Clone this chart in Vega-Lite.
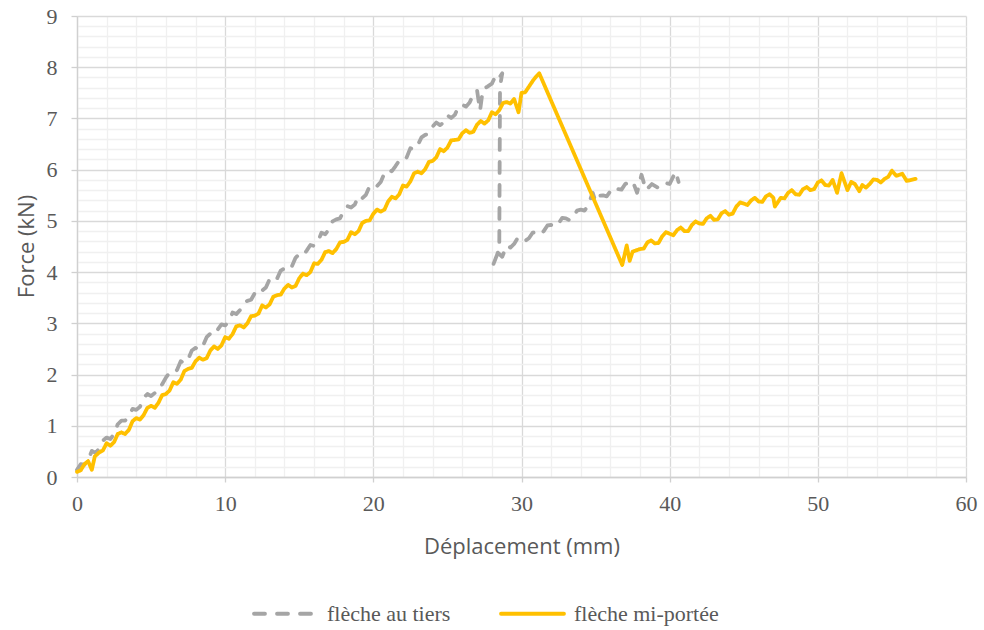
{
  "$schema": "https://vega.github.io/schema/vega-lite/v6.json",
  "width": 889,
  "height": 461,
  "autosize": "none",
  "padding": {"left": 77, "top": 16, "right": 18, "bottom": 153},
  "background": "white",
  "config": {"view": {"stroke": null}},
  "datasets": {
    "pts": [
      {"s":"flèche au tiers","i":1,"x":0,"y":0.14},{"s":"flèche au tiers","i":2,"x":0.5,"y":0.24},{"s":"flèche au tiers","i":3,"x":1,"y":0.51},{"s":"flèche au tiers","i":4,"x":1.5,"y":0.55},{"s":"flèche au tiers","i":5,"x":2,"y":0.77},{"s":"flèche au tiers","i":6,"x":2.5,"y":0.84},{"s":"flèche au tiers","i":7,"x":3,"y":1.10},{"s":"flèche au tiers","i":8,"x":3.5,"y":1.20},{"s":"flèche au tiers","i":9,"x":4,"y":1.31},{"s":"flèche au tiers","i":10,"x":4.5,"y":1.55},
      {"s":"flèche au tiers","i":11,"x":5,"y":1.58},{"s":"flèche au tiers","i":12,"x":5.5,"y":1.78},{"s":"flèche au tiers","i":13,"x":6,"y":1.94},{"s":"flèche au tiers","i":14,"x":6.5,"y":2.02},{"s":"flèche au tiers","i":15,"x":7,"y":2.26},{"s":"flèche au tiers","i":16,"x":7.5,"y":2.30},{"s":"flèche au tiers","i":17,"x":8,"y":2.52},{"s":"flèche au tiers","i":18,"x":8.5,"y":2.56},{"s":"flèche au tiers","i":19,"x":9,"y":2.80},{"s":"flèche au tiers","i":20,"x":9.5,"y":2.88},
      {"s":"flèche au tiers","i":21,"x":10,"y":2.96},{"s":"flèche au tiers","i":22,"x":10.5,"y":3.21},{"s":"flèche au tiers","i":23,"x":11,"y":3.26},{"s":"flèche au tiers","i":24,"x":11.5,"y":3.44},{"s":"flèche au tiers","i":25,"x":12,"y":3.59},{"s":"flèche au tiers","i":26,"x":12.5,"y":3.64},{"s":"flèche au tiers","i":27,"x":13,"y":3.86},{"s":"flèche au tiers","i":28,"x":13.5,"y":3.87},{"s":"flèche au tiers","i":29,"x":14,"y":4.07},{"s":"flèche au tiers","i":30,"x":14.5,"y":4.11},
      {"s":"flèche au tiers","i":31,"x":15,"y":4.35},{"s":"flèche au tiers","i":32,"x":15.5,"y":4.42},{"s":"flèche au tiers","i":33,"x":16,"y":4.51},{"s":"flèche au tiers","i":34,"x":16.5,"y":4.77},{"s":"flèche au tiers","i":35,"x":17,"y":4.83},{"s":"flèche au tiers","i":36,"x":17.5,"y":5.03},{"s":"flèche au tiers","i":37,"x":18,"y":5.19},{"s":"flèche au tiers","i":38,"x":18.5,"y":5.26},{"s":"flèche au tiers","i":39,"x":19,"y":5.49},{"s":"flèche au tiers","i":40,"x":19.5,"y":5.51},
      {"s":"flèche au tiers","i":41,"x":20,"y":5.72},{"s":"flèche au tiers","i":42,"x":20.5,"y":5.76},{"s":"flèche au tiers","i":43,"x":21,"y":6.00},{"s":"flèche au tiers","i":44,"x":21.5,"y":6.07},{"s":"flèche au tiers","i":45,"x":22,"y":6.16},{"s":"flèche au tiers","i":46,"x":22.5,"y":6.42},{"s":"flèche au tiers","i":47,"x":23,"y":6.48},{"s":"flèche au tiers","i":48,"x":23.5,"y":6.68},{"s":"flèche au tiers","i":49,"x":24,"y":6.84},{"s":"flèche au tiers","i":50,"x":24.5,"y":6.87},
      {"s":"flèche au tiers","i":51,"x":25,"y":7.06},{"s":"flèche au tiers","i":52,"x":25.5,"y":7.07},{"s":"flèche au tiers","i":53,"x":26,"y":7.27},{"s":"flèche au tiers","i":54,"x":26.5,"y":7.31},{"s":"flèche au tiers","i":55,"x":27,"y":7.55},{"s":"flèche au tiers","i":56,"x":27.2,"y":7.15},{"s":"flèche au tiers","i":57,"x":27.4,"y":7.58},{"s":"flèche au tiers","i":58,"x":27.7,"y":7.62},{"s":"flèche au tiers","i":59,"x":28,"y":7.68},{"s":"flèche au tiers","i":60,"x":28.3,"y":7.86},
      {"s":"flèche au tiers","i":61,"x":28.5,"y":7.80},{"s":"flèche au tiers","i":62,"x":28.7,"y":7.88},{"s":"flèche au tiers","i":63,"x":28.55,"y":7.62},{"s":"flèche au tiers","i":64,"x":28.5,"y":4.45},{"s":"flèche au tiers","i":65,"x":28.1,"y":4.15},{"s":"flèche au tiers","i":66,"x":28.4,"y":4.38},{"s":"flèche au tiers","i":67,"x":28.7,"y":4.30},{"s":"flèche au tiers","i":68,"x":29,"y":4.52},{"s":"flèche au tiers","i":69,"x":29.5,"y":4.55},{"s":"flèche au tiers","i":70,"x":30,"y":4.68},
      {"s":"flèche au tiers","i":71,"x":30.5,"y":4.66},{"s":"flèche au tiers","i":72,"x":31,"y":4.78},{"s":"flèche au tiers","i":73,"x":31.5,"y":4.80},{"s":"flèche au tiers","i":74,"x":32,"y":4.92},{"s":"flèche au tiers","i":75,"x":32.5,"y":4.95},{"s":"flèche au tiers","i":76,"x":33,"y":5.05},{"s":"flèche au tiers","i":77,"x":33.5,"y":5.08},{"s":"flèche au tiers","i":78,"x":34,"y":5.22},{"s":"flèche au tiers","i":79,"x":34.5,"y":5.30},{"s":"flèche au tiers","i":80,"x":34.8,"y":5.55},
      {"s":"flèche au tiers","i":81,"x":35,"y":5.38},{"s":"flèche au tiers","i":82,"x":35.5,"y":5.50},{"s":"flèche au tiers","i":83,"x":36,"y":5.58},{"s":"flèche au tiers","i":84,"x":36.5,"y":5.62},{"s":"flèche au tiers","i":85,"x":37,"y":5.72},{"s":"flèche au tiers","i":86,"x":37.5,"y":5.78},{"s":"flèche au tiers","i":87,"x":37.8,"y":5.55},{"s":"flèche au tiers","i":88,"x":38.1,"y":5.90},{"s":"flèche au tiers","i":89,"x":38.4,"y":5.60},{"s":"flèche au tiers","i":90,"x":38.8,"y":5.72},
      {"s":"flèche au tiers","i":91,"x":39.2,"y":5.65},{"s":"flèche au tiers","i":92,"x":39.6,"y":5.75},{"s":"flèche au tiers","i":93,"x":40,"y":5.72},{"s":"flèche au tiers","i":94,"x":40.4,"y":5.96},{"s":"flèche au tiers","i":95,"x":40.6,"y":5.76},
      {"s":"flèche au tiers","i":1.5,"x":0.25,"y":0.25},{"s":"flèche au tiers","i":2.5,"x":0.75,"y":0.33},{"s":"flèche au tiers","i":3.5,"x":1.25,"y":0.47},{"s":"flèche au tiers","i":4.5,"x":1.75,"y":0.71},{"s":"flèche au tiers","i":5.5,"x":2.25,"y":0.74},{"s":"flèche au tiers","i":6.5,"x":2.75,"y":1.03},{"s":"flèche au tiers","i":7.5,"x":3.25,"y":1.10},{"s":"flèche au tiers","i":8.5,"x":3.75,"y":1.33},{"s":"flèche au tiers","i":9.5,"x":4.25,"y":1.37},{"s":"flèche au tiers","i":10.5,"x":4.75,"y":1.62},
      {"s":"flèche au tiers","i":11.5,"x":5.25,"y":1.64},{"s":"flèche au tiers","i":12.5,"x":5.75,"y":1.81},{"s":"flèche au tiers","i":13.5,"x":6.25,"y":2.04},{"s":"flèche au tiers","i":14.5,"x":6.75,"y":2.09},{"s":"flèche au tiers","i":15.5,"x":7.25,"y":2.22},{"s":"flèche au tiers","i":16.5,"x":7.75,"y":2.47},{"s":"flèche au tiers","i":17.5,"x":8.25,"y":2.48},{"s":"flèche au tiers","i":18.5,"x":8.75,"y":2.73},{"s":"flèche au tiers","i":19.5,"x":9.25,"y":2.77},{"s":"flèche au tiers","i":20.5,"x":9.75,"y":2.98},
      {"s":"flèche au tiers","i":21.5,"x":10.25,"y":3.04},{"s":"flèche au tiers","i":22.5,"x":10.75,"y":3.18},{"s":"flèche au tiers","i":23.5,"x":11.25,"y":3.40},{"s":"flèche au tiers","i":24.5,"x":11.75,"y":3.46},{"s":"flèche au tiers","i":25.5,"x":12.25,"y":3.68},{"s":"flèche au tiers","i":26.5,"x":12.75,"y":3.70},{"s":"flèche au tiers","i":27.5,"x":13.25,"y":3.81},{"s":"flèche au tiers","i":28.5,"x":13.75,"y":4.03},{"s":"flèche au tiers","i":29.5,"x":14.25,"y":4.03},{"s":"flèche au tiers","i":30.5,"x":14.75,"y":4.28},
      {"s":"flèche au tiers","i":31.5,"x":15.25,"y":4.32},{"s":"flèche au tiers","i":32.5,"x":15.75,"y":4.53},{"s":"flèche au tiers","i":33.5,"x":16.25,"y":4.59},{"s":"flèche au tiers","i":34.5,"x":16.75,"y":4.74},{"s":"flèche au tiers","i":35.5,"x":17.25,"y":4.99},{"s":"flèche au tiers","i":36.5,"x":17.75,"y":5.05},{"s":"flèche au tiers","i":37.5,"x":18.25,"y":5.29},{"s":"flèche au tiers","i":38.5,"x":18.75,"y":5.32},{"s":"flèche au tiers","i":39.5,"x":19.25,"y":5.44},{"s":"flèche au tiers","i":40.5,"x":19.75,"y":5.68},
      {"s":"flèche au tiers","i":41.5,"x":20.25,"y":5.68},{"s":"flèche au tiers","i":42.5,"x":20.75,"y":5.93},{"s":"flèche au tiers","i":43.5,"x":21.25,"y":5.97},{"s":"flèche au tiers","i":44.5,"x":21.75,"y":6.18},{"s":"flèche au tiers","i":45.5,"x":22.25,"y":6.24},{"s":"flèche au tiers","i":46.5,"x":22.75,"y":6.39},{"s":"flèche au tiers","i":47.5,"x":23.25,"y":6.63},{"s":"flèche au tiers","i":48.5,"x":23.75,"y":6.70},{"s":"flèche au tiers","i":49.5,"x":24.25,"y":6.92},{"s":"flèche au tiers","i":50.5,"x":24.75,"y":6.92},
      {"s":"flèche au tiers","i":51.5,"x":25.25,"y":7.01},{"s":"flèche au tiers","i":52.5,"x":25.75,"y":7.23},{"s":"flèche au tiers","i":53.5,"x":26.25,"y":7.23},{"s":"flèche au tiers","i":54.5,"x":26.75,"y":7.48},
      {"s":"flèche au tiers","i":68.5,"x":29.25,"y":4.48},{"s":"flèche au tiers","i":69.5,"x":29.75,"y":4.67},{"s":"flèche au tiers","i":70.5,"x":30.25,"y":4.61},{"s":"flèche au tiers","i":71.5,"x":30.75,"y":4.77},{"s":"flèche au tiers","i":72.5,"x":31.25,"y":4.73},{"s":"flèche au tiers","i":73.5,"x":31.75,"y":4.91},{"s":"flèche au tiers","i":74.5,"x":32.25,"y":4.88},{"s":"flèche au tiers","i":75.5,"x":32.75,"y":5.06},{"s":"flèche au tiers","i":76.5,"x":33.25,"y":5.01},{"s":"flèche au tiers","i":77.5,"x":33.75,"y":5.20},
      {"s":"flèche au tiers","i":78.5,"x":34.25,"y":5.20},{"s":"flèche au tiers","i":81.5,"x":35.25,"y":5.49},{"s":"flèche au tiers","i":82.5,"x":35.75,"y":5.48},{"s":"flèche au tiers","i":83.5,"x":36.25,"y":5.66},{"s":"flèche au tiers","i":84.5,"x":36.75,"y":5.61},
      {"s":"flèche mi-portée","i":1,"x":0,"y":0.10},{"s":"flèche mi-portée","i":2,"x":0.5,"y":0.25},{"s":"flèche mi-portée","i":3,"x":1,"y":0.14},{"s":"flèche mi-portée","i":4,"x":1.2,"y":0.40},{"s":"flèche mi-portée","i":5,"x":1.5,"y":0.48},{"s":"flèche mi-portée","i":6,"x":2,"y":0.66},{"s":"flèche mi-portée","i":7,"x":2.5,"y":0.68},{"s":"flèche mi-portée","i":8,"x":3,"y":0.87},{"s":"flèche mi-portée","i":9,"x":3.5,"y":0.92},{"s":"flèche mi-portée","i":10,"x":4,"y":1.15},
      {"s":"flèche mi-portée","i":11,"x":4.5,"y":1.21},{"s":"flèche mi-portée","i":12,"x":5,"y":1.39},{"s":"flèche mi-portée","i":13,"x":5.5,"y":1.45},{"s":"flèche mi-portée","i":14,"x":6,"y":1.62},{"s":"flèche mi-portée","i":15,"x":6.5,"y":1.85},{"s":"flèche mi-portée","i":16,"x":7,"y":1.90},{"s":"flèche mi-portée","i":17,"x":7.5,"y":2.11},{"s":"flèche mi-portée","i":18,"x":8,"y":2.26},{"s":"flèche mi-portée","i":19,"x":8.5,"y":2.29},{"s":"flèche mi-portée","i":20,"x":9,"y":2.47},
      {"s":"flèche mi-portée","i":21,"x":9.5,"y":2.50},{"s":"flèche mi-portée","i":22,"x":10,"y":2.73},{"s":"flèche mi-portée","i":23,"x":10.5,"y":2.79},{"s":"flèche mi-portée","i":24,"x":11,"y":2.96},{"s":"flèche mi-portée","i":25,"x":11.5,"y":3.00},{"s":"flèche mi-portée","i":26,"x":12,"y":3.15},{"s":"flèche mi-portée","i":27,"x":12.5,"y":3.35},{"s":"flèche mi-portée","i":28,"x":13,"y":3.37},{"s":"flèche mi-portée","i":29,"x":13.5,"y":3.55},{"s":"flèche mi-portée","i":30,"x":14,"y":3.68},
      {"s":"flèche mi-portée","i":31,"x":14.5,"y":3.70},{"s":"flèche mi-portée","i":32,"x":15,"y":3.88},{"s":"flèche mi-portée","i":33,"x":15.5,"y":3.94},{"s":"flèche mi-portée","i":34,"x":16,"y":4.17},{"s":"flèche mi-portée","i":35,"x":16.5,"y":4.24},{"s":"flèche mi-portée","i":36,"x":17,"y":4.41},{"s":"flèche mi-portée","i":37,"x":17.5,"y":4.45},{"s":"flèche mi-portée","i":38,"x":18,"y":4.59},{"s":"flèche mi-portée","i":39,"x":18.5,"y":4.78},{"s":"flèche mi-portée","i":40,"x":19,"y":4.80},
      {"s":"flèche mi-portée","i":41,"x":19.5,"y":5.00},{"s":"flèche mi-portée","i":42,"x":20,"y":5.14},{"s":"flèche mi-portée","i":43,"x":20.5,"y":5.18},{"s":"flèche mi-portée","i":44,"x":21,"y":5.38},{"s":"flèche mi-portée","i":45,"x":21.5,"y":5.44},{"s":"flèche mi-portée","i":46,"x":22,"y":5.69},{"s":"flèche mi-portée","i":47,"x":22.5,"y":5.77},{"s":"flèche mi-portée","i":48,"x":23,"y":5.96},{"s":"flèche mi-portée","i":49,"x":23.5,"y":6.01},{"s":"flèche mi-portée","i":50,"x":24,"y":6.17},
      {"s":"flèche mi-portée","i":51,"x":24.5,"y":6.40},{"s":"flèche mi-portée","i":52,"x":25,"y":6.43},{"s":"flèche mi-portée","i":53,"x":25.5,"y":6.58},{"s":"flèche mi-portée","i":54,"x":26,"y":6.71},{"s":"flèche mi-portée","i":55,"x":26.5,"y":6.72},{"s":"flèche mi-portée","i":56,"x":27,"y":6.88},{"s":"flèche mi-portée","i":57,"x":27.5,"y":6.90},{"s":"flèche mi-portée","i":58,"x":28,"y":7.12},{"s":"flèche mi-portée","i":59,"x":28.5,"y":7.16},{"s":"flèche mi-portée","i":60,"x":29,"y":7.32},
      {"s":"flèche mi-portée","i":61,"x":29.5,"y":7.38},{"s":"flèche mi-portée","i":62,"x":29.8,"y":7.12},{"s":"flèche mi-portée","i":63,"x":30,"y":7.50},{"s":"flèche mi-portée","i":64,"x":30.5,"y":7.62},{"s":"flèche mi-portée","i":65,"x":30.8,"y":7.75},{"s":"flèche mi-portée","i":66,"x":31,"y":7.82},{"s":"flèche mi-portée","i":67,"x":31.2,"y":7.88},{"s":"flèche mi-portée","i":68,"x":36.8,"y":4.14},{"s":"flèche mi-portée","i":69,"x":37.1,"y":4.52},{"s":"flèche mi-portée","i":70,"x":37.3,"y":4.22},
      {"s":"flèche mi-portée","i":71,"x":37.5,"y":4.40},{"s":"flèche mi-portée","i":72,"x":38,"y":4.45},{"s":"flèche mi-portée","i":73,"x":38.5,"y":4.58},{"s":"flèche mi-portée","i":74,"x":39,"y":4.56},{"s":"flèche mi-portée","i":75,"x":39.5,"y":4.70},{"s":"flèche mi-portée","i":76,"x":40,"y":4.75},{"s":"flèche mi-portée","i":77,"x":40.5,"y":4.82},{"s":"flèche mi-portée","i":78,"x":41,"y":4.80},{"s":"flèche mi-portée","i":79,"x":41.5,"y":4.92},{"s":"flèche mi-portée","i":80,"x":42,"y":4.95},
      {"s":"flèche mi-portée","i":81,"x":42.5,"y":5.05},{"s":"flèche mi-portée","i":82,"x":43,"y":5.02},{"s":"flèche mi-portée","i":83,"x":43.5,"y":5.15},{"s":"flèche mi-portée","i":84,"x":44,"y":5.12},{"s":"flèche mi-portée","i":85,"x":44.5,"y":5.28},{"s":"flèche mi-portée","i":86,"x":45,"y":5.34},{"s":"flèche mi-portée","i":87,"x":45.5,"y":5.40},{"s":"flèche mi-portée","i":88,"x":46,"y":5.38},{"s":"flèche mi-portée","i":89,"x":46.5,"y":5.48},{"s":"flèche mi-portée","i":90,"x":47,"y":5.45},
      {"s":"flèche mi-portée","i":91,"x":47.1,"y":5.28},{"s":"flèche mi-portée","i":92,"x":47.5,"y":5.45},{"s":"flèche mi-portée","i":93,"x":48,"y":5.55},{"s":"flèche mi-portée","i":94,"x":48.5,"y":5.52},{"s":"flèche mi-portée","i":95,"x":49,"y":5.62},{"s":"flèche mi-portée","i":96,"x":49.5,"y":5.60},{"s":"flèche mi-portée","i":97,"x":50,"y":5.75},{"s":"flèche mi-portée","i":98,"x":50.5,"y":5.70},{"s":"flèche mi-portée","i":99,"x":51,"y":5.80},{"s":"flèche mi-portée","i":100,"x":51.3,"y":5.55},
      {"s":"flèche mi-portée","i":101,"x":51.6,"y":5.93},{"s":"flèche mi-portée","i":102,"x":52,"y":5.60},{"s":"flèche mi-portée","i":103,"x":52.5,"y":5.72},{"s":"flèche mi-portée","i":104,"x":52.8,"y":5.58},{"s":"flèche mi-portée","i":105,"x":53,"y":5.70},{"s":"flèche mi-portée","i":106,"x":53.5,"y":5.72},{"s":"flèche mi-portée","i":107,"x":54,"y":5.80},{"s":"flèche mi-portée","i":108,"x":54.5,"y":5.82},{"s":"flèche mi-portée","i":109,"x":55,"y":5.98},{"s":"flèche mi-portée","i":110,"x":55.3,"y":5.88},
      {"s":"flèche mi-portée","i":111,"x":55.7,"y":5.92},{"s":"flèche mi-portée","i":112,"x":56,"y":5.78},{"s":"flèche mi-portée","i":113,"x":56.6,"y":5.82},
      {"s":"flèche mi-portée","i":1.5,"x":0.25,"y":0.13},{"s":"flèche mi-portée","i":2.5,"x":0.75,"y":0.31},{"s":"flèche mi-portée","i":5.5,"x":1.75,"y":0.52},{"s":"flèche mi-portée","i":6.5,"x":2.25,"y":0.61},{"s":"flèche mi-portée","i":7.5,"x":2.75,"y":0.84},{"s":"flèche mi-portée","i":8.5,"x":3.25,"y":0.84},{"s":"flèche mi-portée","i":9.5,"x":3.75,"y":1.09},{"s":"flèche mi-portée","i":10.5,"x":4.25,"y":1.12},{"s":"flèche mi-portée","i":11.5,"x":4.75,"y":1.35},{"s":"flèche mi-portée","i":12.5,"x":5.25,"y":1.35},
      {"s":"flèche mi-portée","i":13.5,"x":5.75,"y":1.60},{"s":"flèche mi-portée","i":14.5,"x":6.25,"y":1.69},{"s":"flèche mi-portée","i":15.5,"x":6.75,"y":1.82},{"s":"flèche mi-portée","i":16.5,"x":7.25,"y":2.07},{"s":"flèche mi-portée","i":17.5,"x":7.75,"y":2.13},{"s":"flèche mi-portée","i":18.5,"x":8.25,"y":2.33},{"s":"flèche mi-portée","i":19.5,"x":8.75,"y":2.32},{"s":"flèche mi-portée","i":20.5,"x":9.25,"y":2.55},{"s":"flèche mi-portée","i":21.5,"x":9.75,"y":2.57},{"s":"flèche mi-portée","i":22.5,"x":10.25,"y":2.70},
      {"s":"flèche mi-portée","i":23.5,"x":10.75,"y":2.94},{"s":"flèche mi-portée","i":24.5,"x":11.25,"y":2.92},{"s":"flèche mi-portée","i":25.5,"x":11.75,"y":3.14},{"s":"flèche mi-portée","i":26.5,"x":12.25,"y":3.19},{"s":"flèche mi-portée","i":27.5,"x":12.75,"y":3.31},{"s":"flèche mi-portée","i":28.5,"x":13.25,"y":3.52},{"s":"flèche mi-portée","i":29.5,"x":13.75,"y":3.56},{"s":"flèche mi-portée","i":30.5,"x":14.25,"y":3.75},{"s":"flèche mi-portée","i":31.5,"x":14.75,"y":3.73},{"s":"flèche mi-portée","i":32.5,"x":15.25,"y":3.97},
      {"s":"flèche mi-portée","i":33.5,"x":15.75,"y":4.00},{"s":"flèche mi-portée","i":34.5,"x":16.25,"y":4.16},{"s":"flèche mi-portée","i":35.5,"x":16.75,"y":4.39},{"s":"flèche mi-portée","i":36.5,"x":17.25,"y":4.37},{"s":"flèche mi-portée","i":37.5,"x":17.75,"y":4.58},{"s":"flèche mi-portée","i":38.5,"x":18.25,"y":4.63},{"s":"flèche mi-portée","i":39.5,"x":18.75,"y":4.74},{"s":"flèche mi-portée","i":40.5,"x":19.25,"y":4.96},{"s":"flèche mi-portée","i":41.5,"x":19.75,"y":5.01},{"s":"flèche mi-portée","i":42.5,"x":20.25,"y":5.22},
      {"s":"flèche mi-portée","i":43.5,"x":20.75,"y":5.22},{"s":"flèche mi-portée","i":44.5,"x":21.25,"y":5.47},{"s":"flèche mi-portée","i":45.5,"x":21.75,"y":5.52},{"s":"flèche mi-portée","i":46.5,"x":22.25,"y":5.67},{"s":"flèche mi-portée","i":47.5,"x":22.75,"y":5.93},{"s":"flèche mi-portée","i":48.5,"x":23.25,"y":5.93},{"s":"flèche mi-portée","i":49.5,"x":23.75,"y":6.15},{"s":"flèche mi-portée","i":50.5,"x":24.25,"y":6.24},{"s":"flèche mi-portée","i":51.5,"x":24.75,"y":6.36},{"s":"flèche mi-portée","i":52.5,"x":25.25,"y":6.57},
      {"s":"flèche mi-portée","i":53.5,"x":25.75,"y":6.59},{"s":"flèche mi-portée","i":54.5,"x":26.25,"y":6.77},{"s":"flèche mi-portée","i":55.5,"x":26.75,"y":6.74},{"s":"flèche mi-portée","i":56.5,"x":27.25,"y":6.95},{"s":"flèche mi-portée","i":57.5,"x":27.75,"y":6.96},{"s":"flèche mi-portée","i":58.5,"x":28.25,"y":7.08},{"s":"flèche mi-portée","i":59.5,"x":28.75,"y":7.30},{"s":"flèche mi-portée","i":60.5,"x":29.25,"y":7.29},{"s":"flèche mi-portée","i":63.5,"x":30.25,"y":7.51},
      {"s":"flèche mi-portée","i":72.5,"x":38.25,"y":4.46},{"s":"flèche mi-portée","i":73.5,"x":38.75,"y":4.62},{"s":"flèche mi-portée","i":74.5,"x":39.25,"y":4.57},{"s":"flèche mi-portée","i":75.5,"x":39.75,"y":4.78},{"s":"flèche mi-portée","i":76.5,"x":40.25,"y":4.72},{"s":"flèche mi-portée","i":77.5,"x":40.75,"y":4.87},{"s":"flèche mi-portée","i":78.5,"x":41.25,"y":4.80},{"s":"flèche mi-portée","i":79.5,"x":41.75,"y":4.99},{"s":"flèche mi-portée","i":80.5,"x":42.25,"y":4.94},{"s":"flèche mi-portée","i":81.5,"x":42.75,"y":5.10},
      {"s":"flèche mi-portée","i":82.5,"x":43.25,"y":5.03},{"s":"flèche mi-portée","i":83.5,"x":43.75,"y":5.19},{"s":"flèche mi-portée","i":84.5,"x":44.25,"y":5.14},{"s":"flèche mi-portée","i":85.5,"x":44.75,"y":5.36},{"s":"flèche mi-portée","i":86.5,"x":45.25,"y":5.31},{"s":"flèche mi-portée","i":87.5,"x":45.75,"y":5.45},{"s":"flèche mi-portée","i":88.5,"x":46.25,"y":5.37},{"s":"flèche mi-portée","i":89.5,"x":46.75,"y":5.52},{"s":"flèche mi-portée","i":92.5,"x":47.75,"y":5.44},{"s":"flèche mi-portée","i":93.5,"x":48.25,"y":5.60},
      {"s":"flèche mi-portée","i":94.5,"x":48.75,"y":5.51},{"s":"flèche mi-portée","i":95.5,"x":49.25,"y":5.66},{"s":"flèche mi-portée","i":96.5,"x":49.75,"y":5.62},{"s":"flèche mi-portée","i":97.5,"x":50.25,"y":5.79},{"s":"flèche mi-portée","i":98.5,"x":50.75,"y":5.69},{"s":"flèche mi-portée","i":102.5,"x":52.25,"y":5.76},{"s":"flèche mi-portée","i":105.5,"x":53.25,"y":5.65},{"s":"flèche mi-portée","i":106.5,"x":53.75,"y":5.81},{"s":"flèche mi-portée","i":107.5,"x":54.25,"y":5.75},{"s":"flèche mi-portée","i":108.5,"x":54.75,"y":5.86}
    ]
  },
  "data": {"name": "pts"},
  "layer": [
    {
      "mark": {"type": "line", "strokeOpacity": 0},
      "encoding": {
        "x": {"field": "x", "type": "quantitative", "scale": {"domain": [0, 60], "nice": false, "zero": false},
          "axis": {"orient": "top", "values": [2,4,6,8,12,14,16,18,22,24,26,28,32,34,36,38,42,44,46,48,52,54,56,58], "grid": true, "gridColor": "#F0F0F0", "gridWidth": 1.3, "labels": false, "ticks": false, "domain": false, "title": null}},
        "y": {"field": "y", "type": "quantitative", "scale": {"domain": [0, 9], "nice": false, "zero": false},
          "axis": {"orient": "right", "values": [0.2,0.4,0.6,0.8,1.2,1.4,1.6,1.8,2.2,2.4,2.6,2.8,3.2,3.4,3.6,3.8,4.2,4.4,4.6,4.8,5.2,5.4,5.6,5.8,6.2,6.4,6.6,6.8,7.2,7.4,7.6,7.8,8.2,8.4,8.6,8.8], "grid": true, "gridColor": "#F0F0F0", "gridWidth": 1.3, "labels": false, "ticks": false, "domain": false, "title": null}},
        "detail": {"field": "s"},
        "order": {"field": "i", "type": "quantitative"}
      }
    },
    {
      "mark": {"type": "line", "strokeWidth": 3.8, "strokeCap": "round", "strokeJoin": "round"},
      "encoding": {
        "x": {"field": "x", "type": "quantitative", "scale": {"domain": [0, 60], "nice": false, "zero": false},
          "axis": {"orient": "bottom", "values": [0,10,20,30,40,50,60], "grid": true, "gridColor": "#D9D9D9", "gridWidth": 1.3, "domainColor": "#D0D0D0", "domainWidth": 1.3, "tickColor": "#D0D0D0", "tickWidth": 1.3, "tickSize": 5, "labelFont": "Liberation Serif", "labelFontSize": 22, "labelColor": "#595959", "labelPadding": 11, "labelFlush": false, "labelOverlap": false, "title": "Déplacement (mm)", "titleFont": "Open Sans", "titleFontSize": 22, "titleFontWeight": "normal", "titleColor": "#595959", "titleBaseline": "alphabetic", "titleY": 76}},
        "y": {"field": "y", "type": "quantitative", "scale": {"domain": [0, 9], "nice": false, "zero": false},
          "axis": {"orient": "left", "values": [0,1,2,3,4,5,6,7,8,9], "grid": true, "gridColor": "#D9D9D9", "gridWidth": 1.3, "domainColor": "#D0D0D0", "domainWidth": 1.3, "tickColor": "#D0D0D0", "tickWidth": 1.3, "tickSize": 6, "labelFont": "Liberation Serif", "labelFontSize": 22, "labelColor": "#595959", "labelPadding": 14, "labelFlush": false, "labelOverlap": false, "title": "Force (kN)", "titleFont": "Open Sans", "titleFontSize": 22, "titleFontWeight": "normal", "titleColor": "#595959", "titleBaseline": "alphabetic", "titleAngle": -90, "titleX": -44, "titleY": 230}},
        "color": {"field": "s", "type": "nominal", "scale": {"domain": ["flèche au tiers", "flèche mi-portée"], "range": ["#A5A5A5", "#FFC000"]},
          "legend": {"orient": "none", "legendX": 175, "legendY": 564, "direction": "horizontal", "title": null, "labelFont": "Liberation Serif", "labelFontSize": 22, "labelColor": "#595959", "symbolType": "stroke", "symbolSize": 3969, "symbolStrokeWidth": 3.8, "labelOffset": 8, "columnPadding": 42, "padding": 0,
            "encode": {"symbols": {"update": {"strokeCap": {"value": "round"}}}}}},
        "strokeDash": {"field": "s", "type": "nominal", "scale": {"domain": ["flèche au tiers", "flèche mi-portée"], "range": [[11, 12], [1, 0]]}},
        "order": {"field": "i", "type": "quantitative"}
      }
    }
  ],
  "resolve": {"axis": {"x": "independent", "y": "independent"}}
}
